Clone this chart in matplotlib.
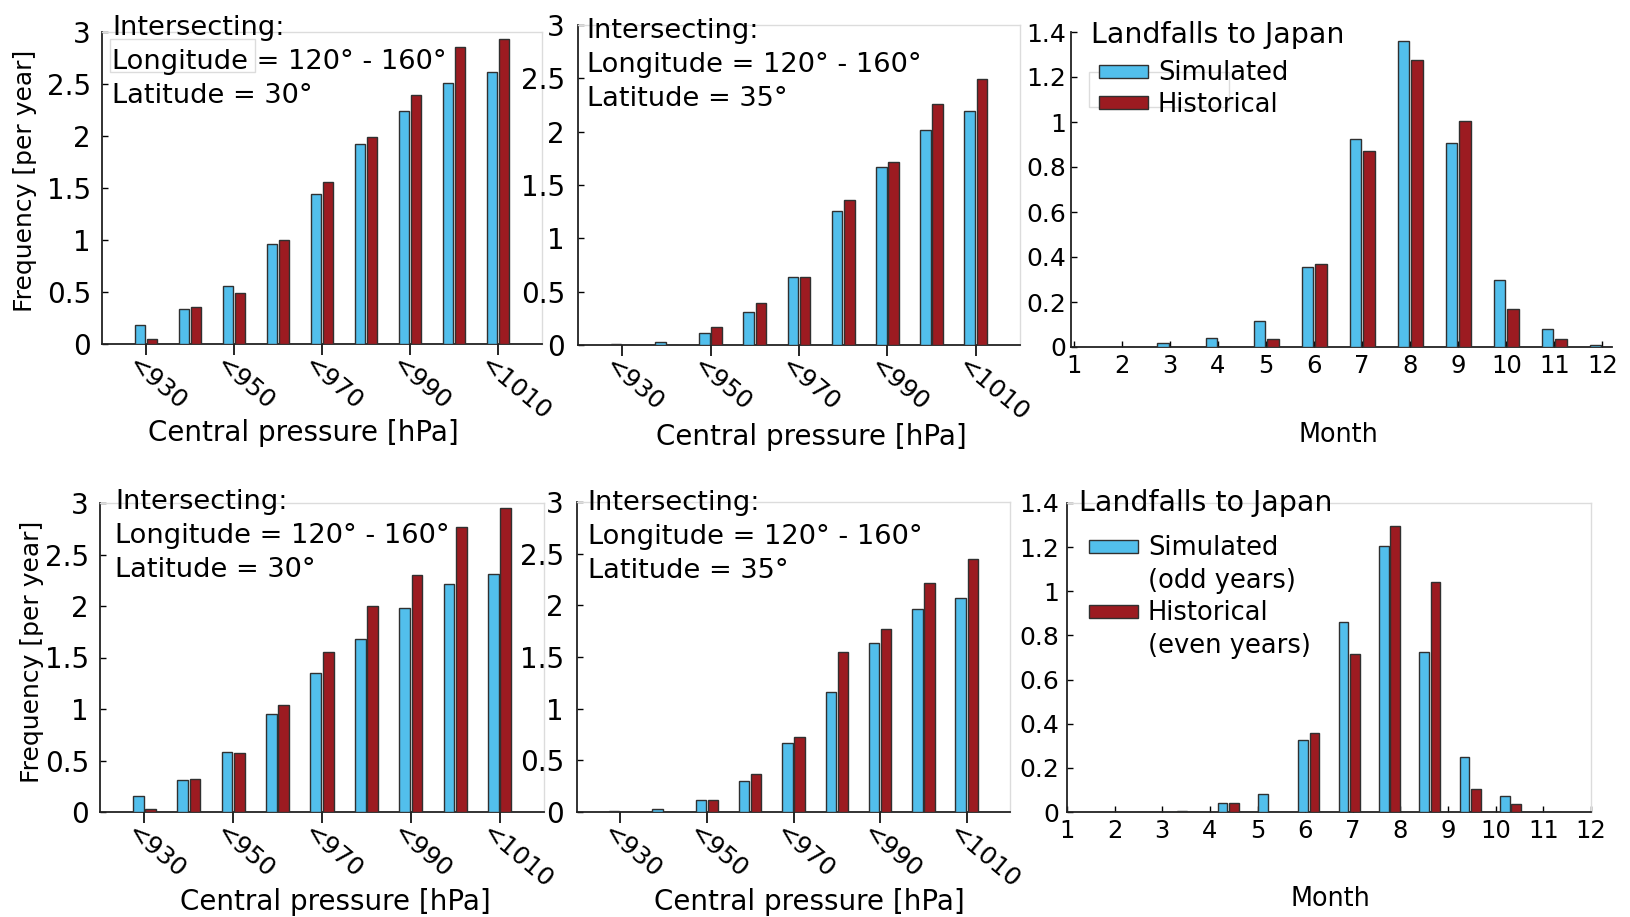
import numpy as np
import matplotlib.pyplot as plt
from matplotlib.patches import Patch, Rectangle
from matplotlib.ticker import FormatStrFormatter
from matplotlib.transforms import ScaledTranslation

plt.rcParams['font.family'] = ['DejaVu Sans']

# pressure bins (every other one labelled on the axis)
pressure_bins = ['<930', '<940', '<950', '<960', '<970', '<980', '<990', '<1000', '<1010']
months = list(range(1, 13))

# full record, frequency per year
sim_lat30 = [0.18, 0.34, 0.56, 0.96, 1.44, 1.92, 2.24, 2.51, 2.62]
hist_lat30 = [0.05, 0.36, 0.49, 1.00, 1.56, 1.99, 2.39, 2.86, 2.93]
sim_lat35 = [0.005, 0.03, 0.11, 0.31, 0.64, 1.26, 1.67, 2.02, 2.19]
hist_lat35 = [0.0, 0.0, 0.165, 0.39, 0.64, 1.36, 1.72, 2.26, 2.49]
sim_month = [0.0, 0.0, 0.02, 0.04, 0.116, 0.357, 0.924, 1.36, 0.905, 0.30, 0.082, 0.01]
hist_month = [0.0, 0.0, 0.0, 0.0, 0.034, 0.368, 0.872, 1.274, 1.003, 0.167, 0.034, 0.0]

# odd years (simulated) vs even years (historical)
sim_lat30_odd = [0.153, 0.31, 0.584, 0.95, 1.347, 1.68, 1.98, 2.21, 2.31]
hist_lat30_even = [0.03, 0.325, 0.575, 1.04, 1.55, 2.00, 2.30, 2.77, 2.95]
sim_lat35_odd = [0.01, 0.03, 0.12, 0.30, 0.665, 1.16, 1.64, 1.96, 2.07]
hist_lat35_even = [0.0, 0.0, 0.114, 0.364, 0.724, 1.55, 1.77, 2.22, 2.45]
sim_month_odd = [0.0, 0.0, 0.004, 0.04, 0.082, 0.326, 0.86, 1.203, 0.723, 0.248, 0.074, 0.0]
hist_month_even = [0.0, 0.0, 0.0, 0.04, 0.0, 0.36, 0.718, 1.294, 1.04, 0.106, 0.038, 0.0]

BLUE = '#52bfec'
RED = '#9c1b21'
EDGE = '#303030'
FAINT = '#dcdcdc'

W, H = 1630, 917
fig = plt.figure(figsize=(W / 100, H / 100), dpi=100)


def add_axes_px(left, right, top, bottom):
    return fig.add_axes([left / W, 1 - bottom / H, (right - left) / W, (bottom - top) / H])


def style_axes(ax, faint_box=True):
    for s in ('left', 'bottom'):
        ax.spines[s].set_color('#222222')
        ax.spines[s].set_linewidth(1.3)
    for s in ('top', 'right'):
        if faint_box:
            ax.spines[s].set_color(FAINT)
            ax.spines[s].set_linewidth(1.0)
        else:
            ax.spines[s].set_visible(False)
    ax.yaxis.set_major_formatter(FormatStrFormatter('%g'))


def faint_frame(ax, x0, y0, x1, y1):
    # leftover empty legend frame, drawn in axes fractions
    ax.add_patch(Rectangle((x0, y0), x1 - x0, y1 - y0, transform=ax.transAxes,
                           fill=False, edgecolor=FAINT, linewidth=1.0, zorder=1,
                           clip_on=False))


def bar_pair(ax, x, sim, hist, width=0.24, off=0.14):
    x = np.asarray(x, dtype=float)
    ax.bar(x - off, sim, width, color=BLUE, edgecolor=EDGE, linewidth=1.0, zorder=3)
    ax.bar(x + off, hist, width, color=RED, edgecolor=EDGE, linewidth=1.0, zorder=3)


def pressure_panel(ax, sim, hist, lat, txt_xy, xlab_xy, ylabel_xy=None, ypad=8):
    x = np.arange(1, len(pressure_bins) + 1)
    bar_pair(ax, x, sim, hist)
    ax.set_xlim(0, 10)
    ax.set_ylim(0, 3)
    ax.set_yticks(np.arange(0, 3.01, 0.5))
    ax.set_xticks(x[::2])
    ax.set_xticklabels(pressure_bins[::2], rotation=-40, ha='left', va='top',
                       rotation_mode='anchor')
    ax.tick_params(axis='x', direction='out', length=8, width=1.2, pad=2, labelsize=18)
    ax.tick_params(axis='y', direction='in', length=4, width=1, pad=ypad, labelsize=20)
    # nudge the slanted labels so they start just left of their tick
    shift = ScaledTranslation(-0.07, 0.05, fig.dpi_scale_trans)
    for lab in ax.get_xticklabels():
        lab.set_transform(lab.get_transform() + shift)
    style_axes(ax)
    ax.text(txt_xy[0], txt_xy[1],
            'Intersecting:\nLongitude = 120\u00b0 - 160\u00b0\nLatitude = %d\u00b0' % lat,
            transform=ax.transAxes, ha='left', va='top', fontsize=19.6, linespacing=1.4,
            zorder=4)
    ax.set_xlabel('Central pressure [hPa]', fontsize=20, va='center')
    ax.xaxis.set_label_coords(*xlab_xy)
    if ylabel_xy is not None:
        ax.set_ylabel('Frequency [per year]', fontsize=18, va='center')
        ax.yaxis.set_label_coords(*ylabel_xy)


def month_panel(ax, sim, hist, title_xy, xlab_xy, labels, leg_xy, shifted=False, ypad=3.6):
    bar_pair(ax, months, sim, hist)
    ax.set_ylim(0, 1.4)
    ax.set_yticks(np.arange(0, 1.41, 0.2))
    if shifted:
        # month labels spread over the full axis, bars on a 0..13 scale
        ax.set_xlim(0, 13)
        ax.set_xticks(np.linspace(0, 13, len(months)))
    else:
        ax.set_xlim(0.94, 12.2)
        ax.set_xticks(months)
    ax.set_xticklabels([str(m) for m in months])
    ax.tick_params(axis='x', direction='in', length=4, width=1, pad=5, labelsize=17.5)
    ax.tick_params(axis='y', direction='in', length=4, width=1, pad=ypad, labelsize=18)
    style_axes(ax, faint_box=shifted)
    ax.text(title_xy[0], title_xy[1], 'Landfalls to Japan', transform=ax.transAxes,
            ha='left', va='top', fontsize=20.5)
    ax.set_xlabel('Month', fontsize=18.4, va='center')
    ax.xaxis.set_label_coords(*xlab_xy)

    blank = Patch(visible=False)
    sim_h = Patch(facecolor=BLUE, edgecolor=EDGE, linewidth=1.0)
    hist_h = Patch(facecolor=RED, edgecolor=EDGE, linewidth=1.0)
    handles, names = [], []
    for h, lab in zip((sim_h, hist_h), labels):
        for i, line in enumerate(lab.split('\n')):
            handles.append(h if i == 0 else blank)
            names.append(line)
    spacing = 0.21 if not shifted else 0.25
    ax.legend(handles, names, loc='upper left', bbox_to_anchor=leg_xy, frameon=False,
              fontsize=18.5, borderpad=0, borderaxespad=0, handlelength=1.9,
              handleheight=0.39, handletextpad=0.39, labelspacing=spacing)


ax1 = add_axes_px(102, 542, 32, 344)
pressure_panel(ax1, sim_lat30, hist_lat30, 30, (0.023, 1.055), (0.457, -0.285),
               ylabel_xy=(-0.176, 0.522))
faint_frame(ax1, 0.018, 0.872, 0.348, 0.978)

ax2 = add_axes_px(578, 1020, 25, 345)
pressure_panel(ax2, sim_lat35, hist_lat35, 35, (0.02, 1.022), (0.529, -0.2875), ypad=9.4)

ax3 = add_axes_px(1071, 1612, 32, 347)
month_panel(ax3, sim_month, hist_month, (0.037, 1.035), (0.494, -0.279),
            ['Simulated', 'Historical'], (0.052, 0.91))
faint_frame(ax3, 0.033, 0.762, 0.292, 0.873)

ax4 = add_axes_px(100, 544, 503, 812)
pressure_panel(ax4, sim_lat30_odd, hist_lat30_even, 30, (0.034, 1.046), (0.529, -0.29),
               ylabel_xy=(-0.153, 0.518))

ax5 = add_axes_px(577, 1010, 502, 812)
pressure_panel(ax5, sim_lat35_odd, hist_lat35_even, 35, (0.025, 1.038), (0.536, -0.29),
               ypad=9.4)

ax6 = add_axes_px(1067, 1591, 503, 812)
month_panel(ax6, sim_month_odd, hist_month_even, (0.023, 1.045), (0.502, -0.28),
            ['Simulated\n(odd years)', 'Historical\n(even years)'], (0.042, 0.895),
            shifted=True, ypad=5.8)

fig.savefig('out.png', dpi=100, facecolor='white')
